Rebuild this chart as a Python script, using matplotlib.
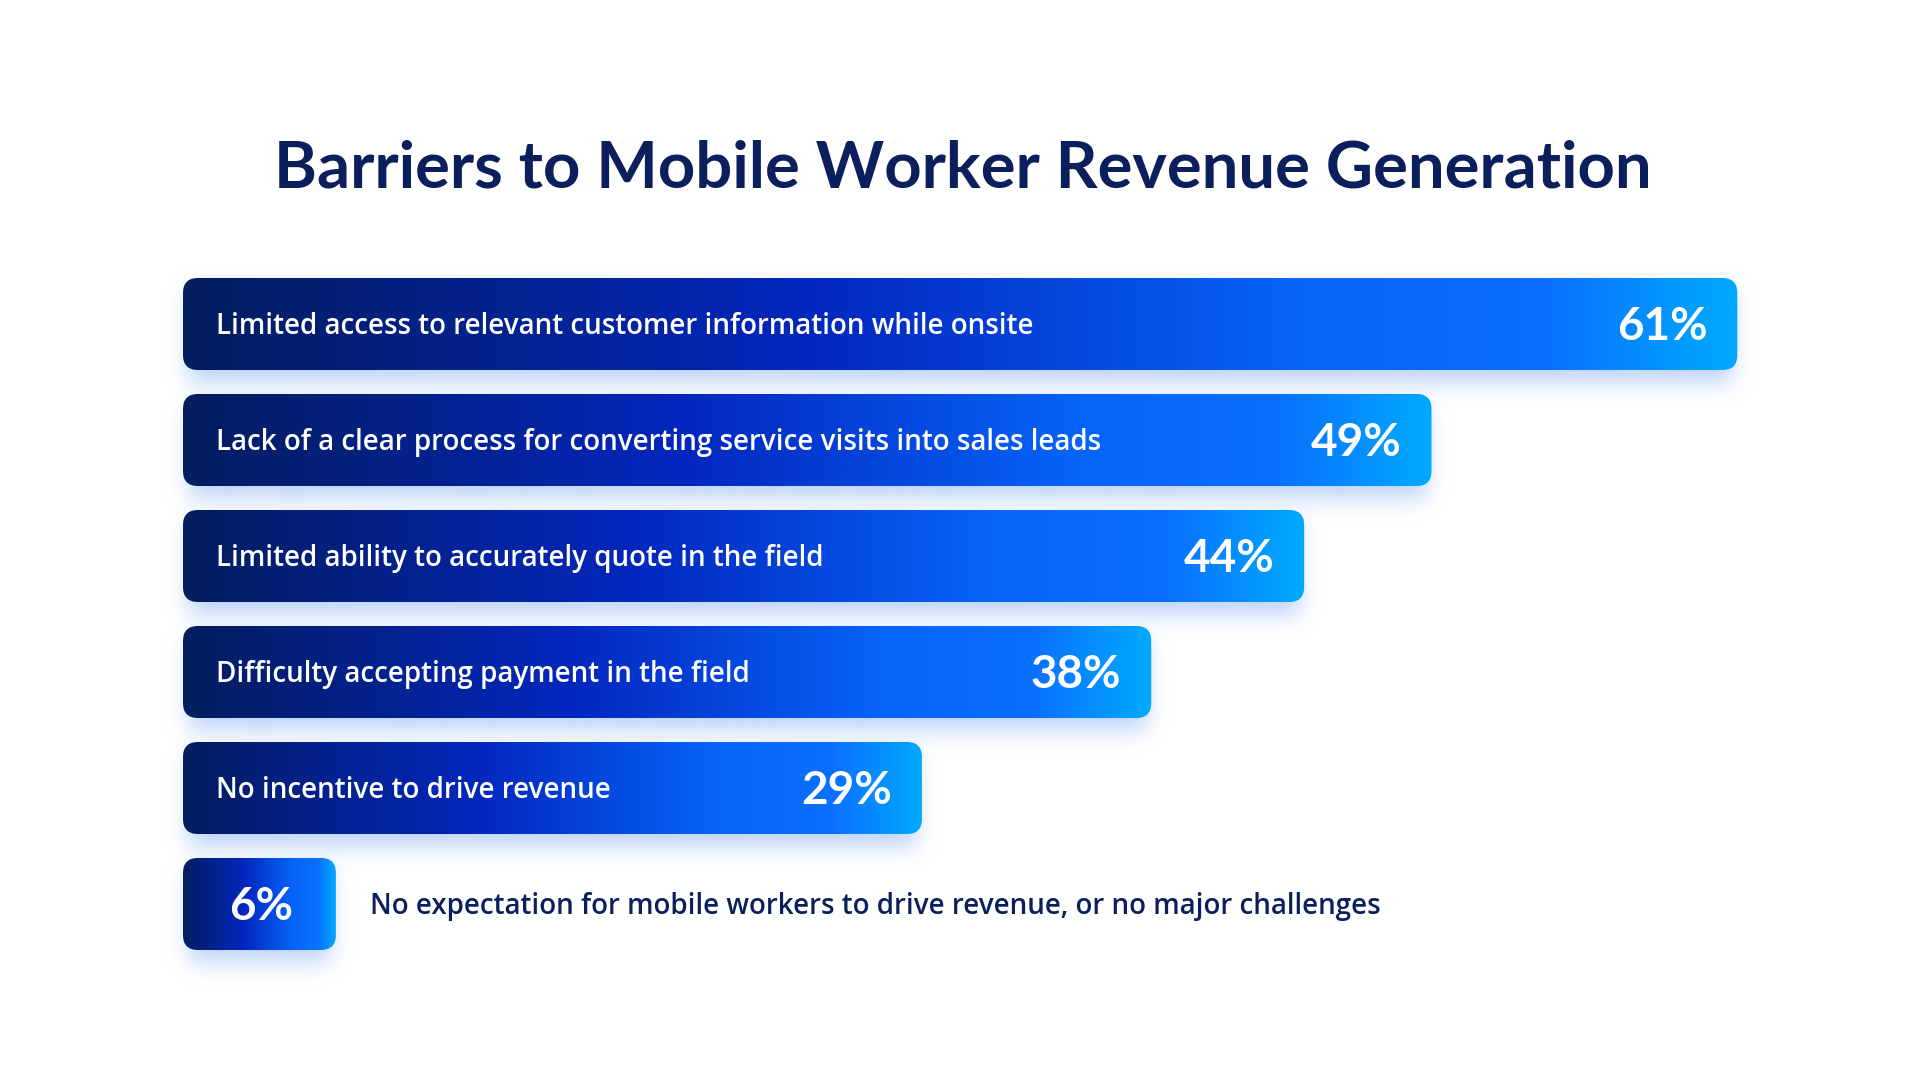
import numpy as np
import matplotlib
matplotlib.use('Agg')
import matplotlib.pyplot as plt
from matplotlib.patches import FancyBboxPatch
from matplotlib.colors import LinearSegmentedColormap, to_rgb

# 数据
title = 'Barriers to Mobile Worker Revenue Generation'
labels = [
    'Limited access to relevant customer information while onsite',
    'Lack of a clear process for converting service visits into sales leads',
    'Limited ability to accurately quote in the field',
    'Difficulty accepting payment in the field',
    'No incentive to drive revenue',
    'No expectation for mobile workers to drive revenue, or no major challenges',
]
values = [61, 49, 44, 38, 29, 6]
value_labels = ['61%', '49%', '44%', '38%', '29%', '6%']

NAVY = '#0b1f5c'
bar_cmap = LinearSegmentedColormap.from_list('bar', [
    (0.0, '#041d5f'), (0.4, '#0327be'), (0.72, '#0764fa'),
    (0.88, '#0a70ff'), (1.0, '#00a9ff')])

W, H, DPI = 1920, 1080, 100
fig = plt.figure(figsize=(W / DPI, H / DPI), dpi=DPI, facecolor='white')
ax = fig.add_axes([0, 0, 1, 1])

# 像素比例: x 为百分比, y 为行号
px_x = 25.48
px_y = 116
x0_px, y0_px = 183, 324
ax.set_xlim(-x0_px / px_x, (W - x0_px) / px_x)
ax.set_ylim((H - y0_px) / px_y, -y0_px / px_y)
ax.axis('off')
bar_h = 92 / px_y
radius = 15


def blur(a, sigma):
    """简单的可分离高斯模糊"""
    r = int(3 * sigma)
    k = np.exp(-0.5 * (np.arange(-r, r + 1) / sigma) ** 2)
    k /= k.sum()
    a = np.apply_along_axis(lambda m: np.convolve(m, k, mode='same'), 0, a)
    a = np.apply_along_axis(lambda m: np.convolve(m, k, mode='same'), 1, a)
    return a


shadow_rgb = to_rgb('#8fb6f5')

for i, (lab, v, vl) in enumerate(zip(labels, values, value_labels)):
    top, bottom = i - bar_h / 2, i + bar_h / 2

    # 阴影
    w_px, h_px, m, dy = int(v * px_x), 92, 45, 12
    mask = np.zeros((h_px + 2 * m, w_px + 2 * m))
    mask[m + dy:m + dy + h_px, m + 6:m + w_px - 6] = 1.0
    mask = blur(mask, 11)
    img = np.zeros(mask.shape + (4,))
    img[..., :3] = shadow_rgb
    img[..., 3] = mask * 0.6
    ax.imshow(img, extent=(-m / px_x, v + m / px_x, bottom + m / px_y, top - m / px_y),
              aspect='auto', interpolation='bilinear', zorder=1)

    # 圆角条 + 渐变
    patch = FancyBboxPatch((0, top), v, bar_h,
                           boxstyle=f'round,pad=0,rounding_size={radius / px_x}',
                           mutation_aspect=px_x / px_y,
                           fc='none', ec='none', zorder=2)
    ax.add_patch(patch)
    grad = ax.imshow(np.linspace(0, 1, 256).reshape(1, -1), cmap=bar_cmap,
                     extent=(0, v, bottom, top), aspect='auto',
                     interpolation='bicubic', zorder=2)
    grad.set_clip_path(patch)

    if i < len(values) - 1:
        ax.text(33 / px_x, i + 10.5 / px_y, lab, color='white', fontsize=20,
                family='Open Sans', fontweight='semibold', va='baseline', ha='left', zorder=3)
        ax.text(v - 30 / px_x, i + 16.5 / px_y, vl, color='white', fontsize=33,
                family='Lato', fontweight='bold', va='baseline', ha='right', zorder=3)
    else:
        ax.text(v / 2 + 2 / px_x, i + 16.5 / px_y, vl, color='white', fontsize=33,
                family='Lato', fontweight='bold', va='baseline', ha='center', zorder=3)
        ax.text(v + 34 / px_x, i + 10.5 / px_y, lab, color=NAVY, fontsize=20,
                family='Open Sans', fontweight='semibold', va='baseline', ha='left', zorder=3)

fig.text(0.5017, 1 - 188 / H, title, ha='center', va='baseline', fontsize=47,
         family='Lato', fontweight='bold', color=NAVY)

fig.savefig('out.png', dpi=DPI, facecolor='white')
